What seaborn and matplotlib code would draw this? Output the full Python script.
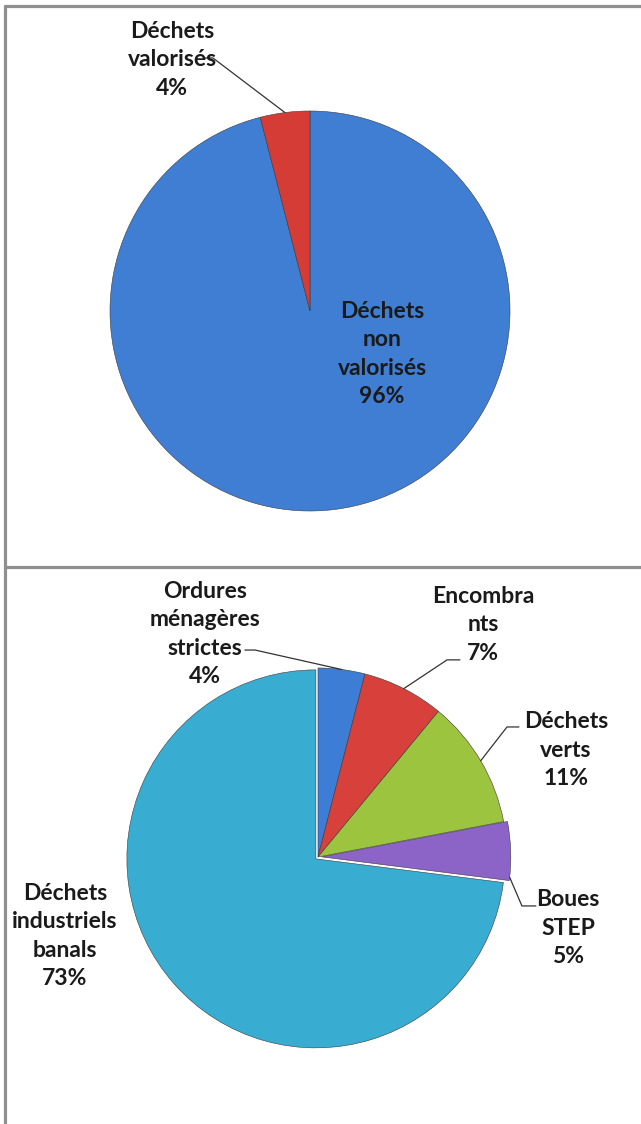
import numpy as np
import matplotlib
matplotlib.use("Agg")
import matplotlib.pyplot as plt
import seaborn as sns
from matplotlib.lines import Line2D

# ---- data ----
top_labels = ["Déchets\nnon\nvalorisés", "Déchets\nvalorisés"]
top_values = [96, 4]
top_colors = ["#3F7ED2", "#D63C36"]

bot_labels = ["Ordures\nménagères\nstrictes", "Encombra\nnts", "Déchets\nverts",
              "Boues\nSTEP", "Déchets\nindustriels\nbanals"]
bot_values = [4, 7, 11, 5, 73]
bot_colors = ["#3D7DD5", "#D8403B", "#9CC43F", "#8C63C6", "#38ADD1"]
bot_explode = [0, 0, 0, 0.02, 0.015]

sns.set_theme(style="white")
plt.rcParams["font.family"] = ["Lato", "DejaVu Sans"]

W, H = 641, 1124
fig = plt.figure(figsize=(W / 100, H / 100), dpi=100)
fig.patch.set_facecolor("white")


def axes_for(cx, cy, r):
    return fig.add_axes([(cx - r) / W, 1 - (cy + r) / H, 2 * r / W, 2 * r / H])


txt = dict(ha="center", va="center", fontsize=16.5, fontweight="bold",
           color="#1a1a1a", linespacing=1.42)


def draw_pie(ax, values, colors, explode):
    wedges, _ = ax.pie(values, colors=colors, startangle=90, counterclock=False,
                       explode=explode, radius=1.0,
                       wedgeprops=dict(edgecolor="#3a3a3a", linewidth=0.4))
    ax.set_xlim(-1, 1)
    ax.set_ylim(-1, 1)
    ax.set_aspect("equal")
    ax.axis("off")
    return wedges


def edge_point(w, ang):
    cx, cy = w.center
    a = np.deg2rad(ang)
    return cx + w.r * np.cos(a), cy + w.r * np.sin(a)


def label(ax, w, text, pct, pos, hook=None, ang=None):
    ax.text(pos[0], pos[1], f"{text}\n{pct}%", **txt)
    if hook is None:
        return
    if ang is None:
        ang = (w.theta1 + w.theta2) / 2
    ex, ey = edge_point(w, ang)
    ax.add_line(Line2D([hook[0], hook[1], ex], [hook[2], hook[2], ey],
                       color="#333333", lw=0.9, clip_on=False))


# ---- top pie ----
ax1 = axes_for(310, 311, 200)
w1 = draw_pie(ax1, top_values, top_colors, [0, 0])
label(ax1, w1[0], top_labels[0], top_values[0], (0.36, -0.215))
label(ax1, w1[1], top_labels[1], top_values[1], (-0.69, 1.255),
      hook=(-0.535, -0.485, 1.265))

# ---- bottom pie ----
ax2 = axes_for(318, 857, 189)
w2 = draw_pie(ax2, bot_values, bot_colors, bot_explode)
label(ax2, w2[0], bot_labels[0], bot_values[0], (-0.598, 1.18),
      hook=(-0.387, -0.333, 1.095))
label(ax2, w2[1], bot_labels[1], bot_values[1], (0.873, 1.228),
      hook=(0.751, 0.683, 1.043))
label(ax2, w2[2], bot_labels[2], bot_values[2], (1.312, 0.566),
      hook=(1.063, 1.0, 0.688))
label(ax2, w2[3], bot_labels[3], bot_values[3], (1.323, -0.376),
      hook=(1.153, 1.079, -0.259), ang=w2[3].theta1 + 1)
label(ax2, w2[4], bot_labels[4], bot_values[4], (-1.339, -0.418))

# ---- panel borders ----
bc = "#8f8f8f"
for xs, ys in [([5, W], [6, 6]), ([5, 5], [6, H]), ([5, W], [567, 567])]:
    fig.add_artist(Line2D([x / W for x in xs], [1 - y / H for y in ys],
                          color=bc, lw=2.3, transform=fig.transFigure))

fig.savefig("out.png", dpi=100, facecolor="white")
